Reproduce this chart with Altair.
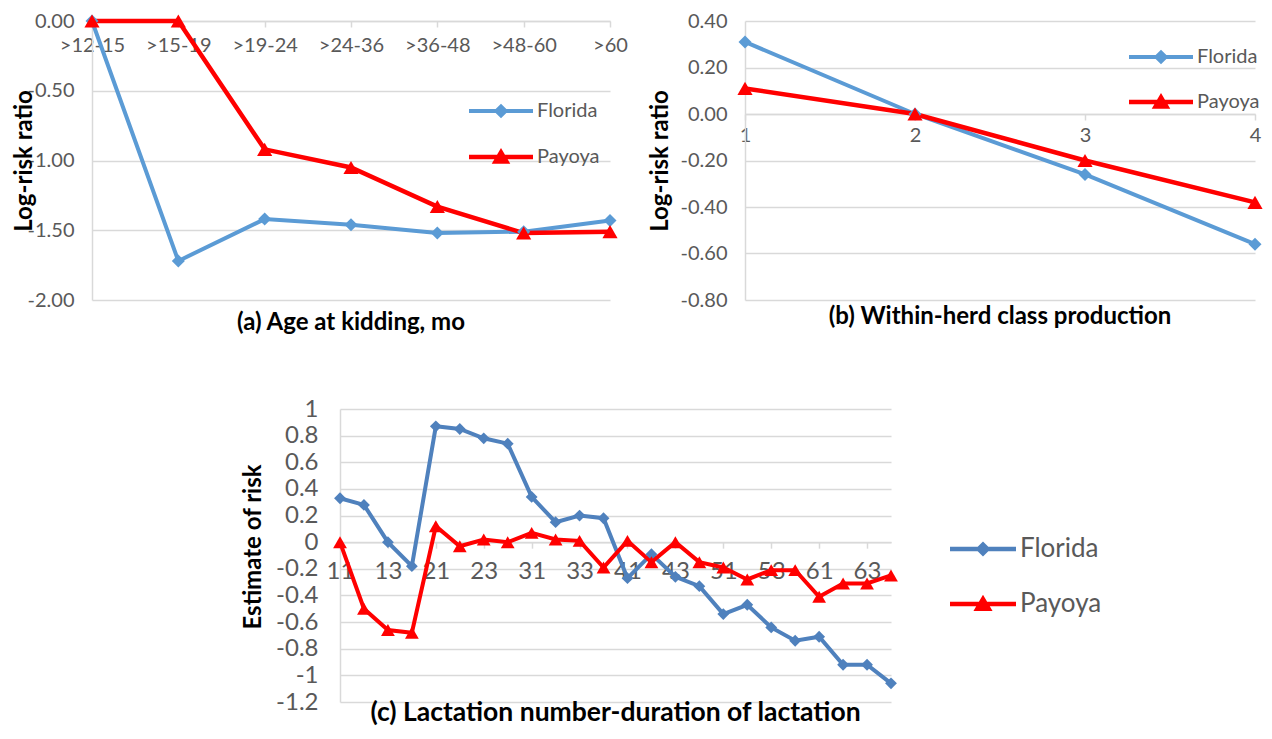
import altair as alt
import pandas as pd

FONT = "Lato"
GRID = "#d9d9d9"
TICKC = "#595959"
RED = "#FF0000"

series = ["Florida", "Payoya"]

# (a) Age at kidding
age_classes = [">12-15", ">15-19", ">19-24", ">24-36", ">36-48", ">48-60", ">60"]
age_florida = [0.00, -1.72, -1.42, -1.46, -1.52, -1.51, -1.43]
age_payoya = [0.00, 0.00, -0.92, -1.05, -1.33, -1.52, -1.51]
age_yticks = [-2.0, -1.5, -1.0, -0.5, 0.0]

# (b) Within-herd class production
prod_classes = ["1", "2", "3", "4"]
prod_florida = [0.31, 0.00, -0.26, -0.56]
prod_payoya = [0.11, 0.00, -0.20, -0.38]
prod_yticks = [-0.8, -0.6, -0.4, -0.2, 0.0, 0.2, 0.4]

# (c) Lactation number-duration of lactation
lact_classes = ["11", "12", "13", "14", "21", "22", "23", "24",
                "31", "32", "33", "34", "41", "42", "43", "44",
                "51", "52", "53", "54", "61", "62", "63", "64"]
lact_shown = ["11", "13", "21", "23", "31", "33", "41", "43", "51", "53", "61", "63"]
lact_florida = [0.33, 0.28, 0.00, -0.18, 0.87, 0.85, 0.78, 0.74,
                0.34, 0.15, 0.20, 0.18, -0.27, -0.09, -0.26, -0.33,
                -0.54, -0.47, -0.64, -0.74, -0.71, -0.92, -0.92, -1.06]
lact_payoya = [0.00, -0.50, -0.66, -0.68, 0.12, -0.03, 0.02, 0.00,
               0.07, 0.02, 0.01, -0.19, 0.01, -0.15, 0.00, -0.15,
               -0.19, -0.28, -0.21, -0.21, -0.41, -0.31, -0.31, -0.25]
lact_yticks = [-1.2, -1.0, -0.8, -0.6, -0.4, -0.2, 0.0, 0.2, 0.4, 0.6, 0.8, 1.0]

# legend symbols: line segment with marker
LEG_DIAMOND = "M-1,-0.065H1V0.065H-1Z M0,-0.23L0.23,0L0,0.23L-0.23,0Z"
LEG_TRIANGLE = "M-1,-0.07H1V0.07H-1Z M0,-0.28L0.29,0.21L-0.29,0.21Z"


def panel(cats, flo, pay, *, ydom, yvals, fmt, w, h, xvals, blue, fs_tick, fs_ytitle,
          fs_xtitle, fs_leg, ytitle, xtitle, ytitle_x, ytitle_dy, leg_x, leg_y, leg_size,
          leg_rowpad, lw_b, lw_r, dsize, tsize, xlabel_pad, xtitle_off, ylabel_pad):
    df = pd.DataFrame({
        "cat": cats + cats,
        "series": ["Florida"] * len(cats) + ["Payoya"] * len(cats),
        "value": flo + pay,
        "order": list(range(len(cats))) * 2,
    })
    zero_from_bottom = h * (0 - ydom[0]) / (ydom[1] - ydom[0])
    x = alt.X("cat:N", scale=alt.Scale(type="point", domain=cats, padding=0),
              axis=alt.Axis(title=None, orient="bottom", offset=-zero_from_bottom,
                            values=xvals, labelAngle=0, labelFont=FONT,
                            labelFontSize=fs_tick, labelColor=TICKC,
                            labelPadding=xlabel_pad, labelBaseline="top",
                            tickSize=6, tickColor=GRID, tickWidth=1.5,
                            domainColor=GRID, domainWidth=1.5, grid=False,
                            labelOverlap=False))
    y = alt.Y("value:Q", scale=alt.Scale(domain=ydom, nice=False, zero=False),
              axis=alt.Axis(title=ytitle, values=yvals,
                            labelExpr="replace(format(datum.value, '%s'), '\u2212', '-')" % fmt,
                            labelFont=FONT, labelFontSize=fs_tick, labelColor=TICKC,
                            labelPadding=ylabel_pad, ticks=False, labelOverlap=False,
                            domainColor=GRID, domainWidth=1.5,
                            gridColor=GRID, gridWidth=1.5,
                            titleFont=FONT, titleFontSize=fs_ytitle, titleFontWeight="bold",
                            titleColor="#000000", titleX=ytitle_x, titleY=h / 2 + ytitle_dy,
                            titleBaseline="middle", titleAlign="center"))
    base = alt.Chart(df).encode(x=x, y=y)
    lf = base.transform_filter(alt.datum.series == "Florida").mark_line(
        strokeWidth=lw_b, color=blue).encode(order="order:Q")
    lp = base.transform_filter(alt.datum.series == "Payoya").mark_line(
        strokeWidth=lw_r, color=RED).encode(order="order:Q")
    pf = base.transform_filter(alt.datum.series == "Florida").mark_point(
        filled=True, opacity=1, shape="diamond", size=dsize, color=blue)
    pp = base.transform_filter(alt.datum.series == "Payoya").mark_point(
        filled=True, opacity=1, shape="triangle-up", size=tsize, color=RED)
    leg = alt.Legend(title=None, orient="none", legendX=leg_x, legendY=leg_y,
                     direction="vertical", symbolSize=leg_size, symbolStrokeWidth=0,
                     symbolOpacity=1, labelFont=FONT, labelFontSize=fs_leg,
                     labelColor=TICKC, rowPadding=leg_rowpad, labelOffset=4, padding=0)
    # invisible layer whose only job is to carry the legend
    legl = base.mark_point(filled=True, opacity=0).encode(
        fill=alt.Fill("series:N", scale=alt.Scale(domain=series, range=[blue, RED]), legend=leg),
        shape=alt.Shape("series:N", scale=alt.Scale(domain=series, range=[LEG_DIAMOND, LEG_TRIANGLE]),
                        legend=leg))
    return alt.layer(lf, lp, pf, pp, legl).properties(
        width=w, height=h,
        title=alt.TitleParams(xtitle, orient="bottom", anchor="middle", frame="group",
                              offset=xtitle_off, font=FONT, fontSize=fs_xtitle,
                              fontWeight="bold", color="#000000"))


pa = panel(age_classes, age_florida, age_payoya, ydom=[-2, 0], yvals=age_yticks, fmt=".2f",
           w=518, h=279, xvals=age_classes, blue="#5B9BD5", fs_tick=20, fs_ytitle=24,
           fs_xtitle=24, fs_leg=20, ytitle="Log-risk ratio", xtitle="(a) Age at kidding, mo",
           ytitle_x=-68, ytitle_dy=0, leg_x=377, leg_y=58, leg_size=4096, leg_rowpad=4,
           lw_b=4, lw_r=4.5, dsize=170, tsize=230, xlabel_pad=8, xtitle_off=1, ylabel_pad=18)

pb = panel(prod_classes, prod_florida, prod_payoya, ydom=[-0.8, 0.4], yvals=prod_yticks, fmt=".2f",
           w=510, h=279, xvals=prod_classes, blue="#5B9BD5", fs_tick=20, fs_ytitle=24,
           fs_xtitle=24, fs_leg=20, ytitle="Log-risk ratio",
           xtitle="(b) Within-herd class production",
           ytitle_x=-85, ytitle_dy=0, leg_x=384, leg_y=4, leg_size=4096, leg_rowpad=3,
           lw_b=4, lw_r=4.5, dsize=170, tsize=230, xlabel_pad=5, xtitle_off=-5, ylabel_pad=18)

pc = panel(lact_classes, lact_florida, lact_payoya, ydom=[-1.2, 1.0], yvals=lact_yticks, fmt="~g",
           w=551, h=293, xvals=lact_shown, blue="#4F81BD", fs_tick=24, fs_ytitle=24,
           fs_xtitle=26.5, fs_leg=26, ytitle="Estimate of risk",
           xtitle="(c) Lactation number-duration of lactation",
           ytitle_x=-87, ytitle_dy=-9, leg_x=610, leg_y=107, leg_size=4356, leg_rowpad=9,
           lw_b=4, lw_r=4, dsize=140, tsize=190, xlabel_pad=11, xtitle_off=-14, ylabel_pad=22)

spacer = alt.Chart(pd.DataFrame({"v": [0]})).mark_point(opacity=0, size=0).encode(
    x=alt.X("v:Q", axis=None), y=alt.Y("v:Q", axis=None)).properties(width=148, height=10)

IND = dict(fill="independent", shape="independent")

top = alt.hconcat(pa, pb, spacing=19).resolve_scale(**IND).resolve_legend(**IND)
bottom = alt.hconcat(spacer, pc, spacing=0).resolve_scale(**IND).resolve_legend(**IND)
chart = alt.vconcat(top, bottom, spacing=62).resolve_scale(**IND).resolve_legend(**IND).properties(
    padding={"left": 3, "top": 3, "right": 0, "bottom": 0}
).configure_view(stroke=None)

chart.save("out.html", embed_options={"renderer": "svg", "actions": False})
